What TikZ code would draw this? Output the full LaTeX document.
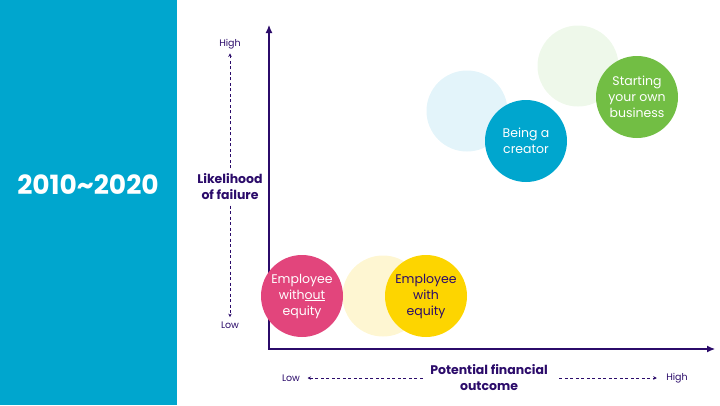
\documentclass[tikz,border=0pt]{standalone}
\usepackage{fontspec}
\setmainfont{Poppins}
\usetikzlibrary{arrows.meta}
\definecolor{panelblue}{HTML}{00A6CE}
\definecolor{axispurple}{HTML}{2B0B6A}
\definecolor{bubblepink}{HTML}{E2457C}
\definecolor{bubbleyellow}{HTML}{FDD500}
\definecolor{paleyellow}{HTML}{FEF6D2}
\definecolor{paleblue}{HTML}{E3F4FA}
\definecolor{bubblegreen}{HTML}{72BE44}
\definecolor{palegreen}{HTML}{EEF8EA}
\begin{document}
\begin{tikzpicture}[x=1pt, y=-1pt,
		axis/.style={draw=axispurple, line width=1.1pt, {Latex[length=8pt,width=7pt]}-{Latex[length=8pt,width=7pt]}},
		dasharrow/.style={draw=axispurple, line width=0.6pt, dash pattern=on 3pt off 2.5pt, -{Stealth[length=3.5pt,width=3.5pt]}},
		tick/.style={text=axispurple, font=\fontsize{9.5}{11}\selectfont},
		title/.style={text=axispurple, font=\fontsize{12.5}{16}\selectfont\bfseries, align=center},
		bubble/.style={circle, minimum size=82pt, inner sep=0pt, align=center, text=white, font=\fontsize{12.5}{16}\selectfont},
		ghost/.style={circle, minimum size=81pt, inner sep=0pt}]
	\useasboundingbox (0,0) rectangle (720,405);
	\fill[panelblue] (0,0) rectangle (177,405);
	\node[text=white, font=\fontsize{26.5}{28}\selectfont\bfseries] (period) at (88,185) {2010\textasciitilde2020};

	% axes
	\coordinate (origin) at (269,349);
	\coordinate (ytop) at (269,25);
	\coordinate (xend) at (715,349);
	\draw[axis] (ytop) -- (origin) -- (xend);

	% likelihood of failure
	\node[tick] (yhigh) at (230,44) {High};
	\node[tick] (ylow) at (230,325) {Low};
	\node[title] (ytitle) at (230,187) {Likelihood\\of failure};
	\draw[dasharrow] (ytitle.north) ++(0,-2) coordinate (ya) (ya) -- ([yshift=-1pt]yhigh.south);
	\draw[dasharrow] (ytitle.south) ++(0,2) coordinate (yb) (yb) -- ([yshift=1pt]ylow.north);

	% potential financial outcome
	\node[tick] (xlow) at (291,378) {Low};
	\node[tick] (xhigh) at (677,378) {High};
	\node[title] (xtitle) at (489,378) {Potential financial\\outcome};
	\draw[dasharrow] ([xshift=-4pt]xtitle.west) -- ([xshift=4pt]xlow.east);
	\draw[dasharrow] ([xshift=8pt]xtitle.east) -- ([xshift=-6pt]xhigh.west);

	% faint bubbles
	\node[ghost, fill=paleyellow] (yghost) at (383,296) {};
	\node[ghost, fill=paleblue] (bghost) at (467,111) {};
	\node[ghost, fill=palegreen] (gghost) at (578,66) {};

	% bubbles
	\node[bubble, fill=bubblepink] (noequity) at (302,296) {Employee\\with\underline{out}\\equity};
	\node[bubble, fill=bubbleyellow, text=axispurple] (equity) at (426,296) {Employee\\with\\equity};
	\node[bubble, fill=panelblue] (creator) at (526,141) {Being a\\creator};
	\node[bubble, fill=bubblegreen] (business) at (637,97) {Starting\\your own\\business};
\end{tikzpicture}
\end{document}
